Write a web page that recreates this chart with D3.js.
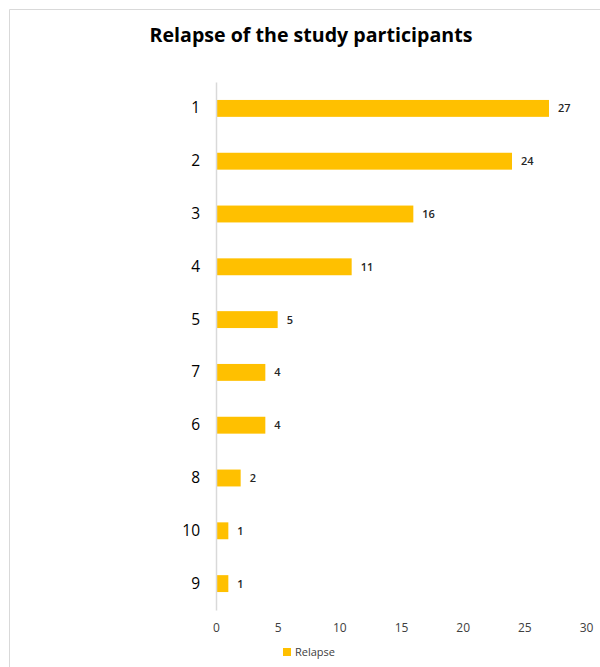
<!DOCTYPE html>
<html><head><meta charset="utf-8">
<script src="https://cdn.jsdelivr.net/npm/d3@7"></script>
<style>body{margin:0;background:#fff}svg{display:block}</style>
</head><body>
<script>
const categories = ["1","2","3","4","5","7","6","8","10","9"];
const values = [27,24,16,11,5,4,4,2,1,1];
const xTicks = [0,5,10,15,20,25,30];
const seriesName = "Relapse";
const title = "Relapse of the study participants";

const W=600,H=667;
const svg=d3.select("body").append("svg").attr("width",W).attr("height",H);
svg.append("rect").attr("width",W).attr("height",H).attr("fill","#fff");
// chart border (top & left visible)
svg.append("path").attr("d","M9.5,667V9.5H600").attr("fill","none").attr("stroke","#d9d9d9").attr("stroke-width",1);

const x=d3.scaleLinear().domain([0,30]).range([216,586]);
const y=d3.scaleBand().domain(categories).range([82,610]).paddingInner(0.68).paddingOuter(0.34);

svg.append("text").attr("x",311).attr("y",42).attr("text-anchor","middle")
  .attr("font-family","'Open Sans',sans-serif").attr("font-weight","bold").attr("font-size",19.6)
  .attr("fill","#000").text(title);

svg.selectAll("rect.bar").data(values).join("rect").attr("class","bar")
  .attr("x",x(0)).attr("y",(d,i)=>y(categories[i]))
  .attr("width",d=>x(d)-x(0)).attr("height",y.bandwidth()).attr("fill","#ffc000");

svg.selectAll("text.val").data(values).join("text").attr("class","val")
  .attr("x",d=>x(d)+9).attr("y",(d,i)=>y(categories[i])+y.bandwidth()/2+4)
  .attr("font-family","'Open Sans',sans-serif").attr("font-size",11).attr("font-weight",600).attr("fill","#262626").text(d=>d);

// y axis
const ya=svg.append("g").attr("transform",`translate(${x(0)},0)`)
  .call(d3.axisLeft(y).tickSize(0).tickPadding(16));
ya.select(".domain").attr("stroke","#d9d9d9").attr("stroke-width",1.5);
ya.selectAll("text").attr("font-family","'Open Sans',sans-serif").attr("font-size",15.5).attr("fill","#000");

// x axis labels only
const xa=svg.append("g").attr("transform","translate(0,610)")
  .call(d3.axisBottom(x).tickValues(xTicks).tickSize(0).tickPadding(13));
xa.select(".domain").remove();
xa.selectAll("text").attr("font-family","'Open Sans',sans-serif").attr("font-size",12).attr("fill","#404040");

// legend
const lg=svg.append("g");
lg.append("rect").attr("x",283).attr("y",648).attr("width",8).attr("height",8).attr("fill","#ffc000");
lg.append("text").attr("x",295).attr("y",656).attr("font-family","'Open Sans',sans-serif").attr("font-size",11).attr("fill","#404040").text(seriesName);
</script>
</body></html>
